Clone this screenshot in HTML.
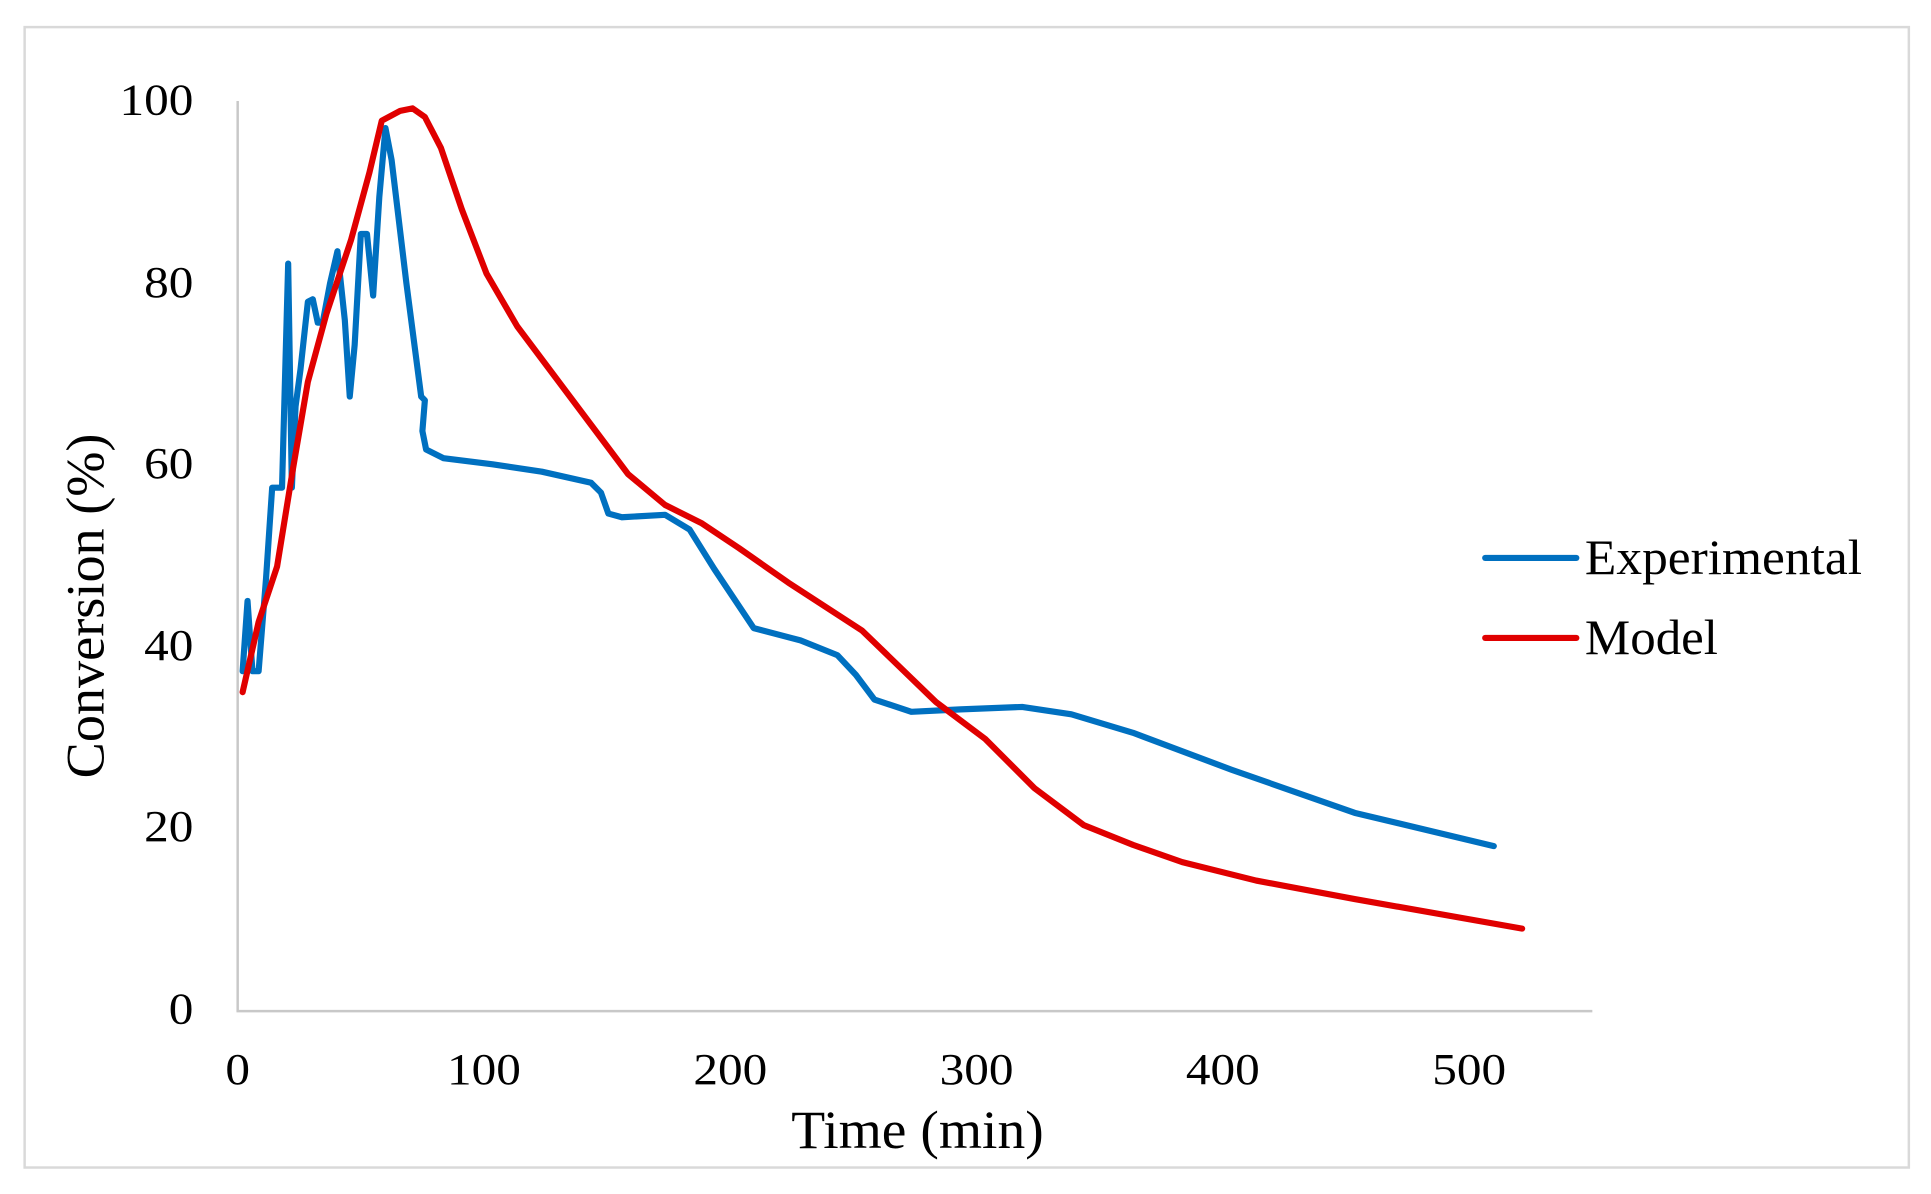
<!DOCTYPE html>
<html><head><meta charset="utf-8"><style>html,body{margin:0;padding:0;background:#fff}svg{display:block}</style></head>
<body>
<svg width="1931" height="1194" viewBox="0 0 1568 969.5" preserveAspectRatio="none" xmlns="http://www.w3.org/2000/svg" font-family="'Liberation Serif', serif" fill="#000">
<rect x="20" y="22" width="1530" height="926" fill="#fff" stroke="#d9d9d9" stroke-width="2"/>
<line x1="193" y1="82" x2="193" y2="821" stroke="#c8c8c8" stroke-width="2"/>
<line x1="192" y1="821" x2="1293" y2="821" stroke="#c8c8c8" stroke-width="2"/>
<g font-size="36" text-anchor="end" lengthAdjust="spacingAndGlyphs">
<text x="157" y="93" textLength="60" lengthAdjust="spacingAndGlyphs">100</text>
<text x="157" y="241" textLength="40" lengthAdjust="spacingAndGlyphs">80</text>
<text x="157" y="388" textLength="40" lengthAdjust="spacingAndGlyphs">60</text>
<text x="157" y="536" textLength="40" lengthAdjust="spacingAndGlyphs">40</text>
<text x="157" y="683" textLength="40" lengthAdjust="spacingAndGlyphs">20</text>
<text x="157" y="831" textLength="20" lengthAdjust="spacingAndGlyphs">0</text>
</g>
<g font-size="36" text-anchor="middle">
<text x="193" y="880" textLength="20" lengthAdjust="spacingAndGlyphs">0</text>
<text x="393" y="880" textLength="60" lengthAdjust="spacingAndGlyphs">100</text>
<text x="593" y="880" textLength="60" lengthAdjust="spacingAndGlyphs">200</text>
<text x="793" y="880" textLength="60" lengthAdjust="spacingAndGlyphs">300</text>
<text x="993" y="880" textLength="60" lengthAdjust="spacingAndGlyphs">400</text>
<text x="1193" y="880" textLength="60" lengthAdjust="spacingAndGlyphs">500</text>
</g>
<text x="745" y="932" font-size="44" text-anchor="middle" textLength="205" lengthAdjust="spacingAndGlyphs">Time (min)</text>
<text transform="translate(84,492) rotate(-90)" font-size="44" text-anchor="middle" textLength="280" lengthAdjust="spacingAndGlyphs">Conversion (%)</text>
<path fill="none" stroke="#0070c0" stroke-width="5" stroke-linejoin="round" stroke-linecap="round" d="M197,545 L201,488 L205,545 L210,545 L216,470 L221,396 L229,396 L234,214 L237,396 L240,330 L244,300 L250,245 L254,243 L258,262 L262,262 L268,230 L274,204 L280,260 L284,322 L288,280 L293,190 L298,190 L303,240 L308,160 L313,104 L318,130 L330,230 L342,322 L345,325 L343,350 L346,365 L360,372 L400,377 L440,383 L480,392 L488,400 L494,417 L505,420 L540,418 L560,430 L580,462 L612,510 L650,520 L680,532 L695,548 L710,568 L740,578 L780,576 L830,574 L870,580 L920,595 L1000,625 L1100,660 L1213,687"/>
<path fill="none" stroke="#e00000" stroke-width="5" stroke-linejoin="round" stroke-linecap="round" d="M197,562 L210,505 L225,460 L238,380 L250,310 L265,255 L285,195 L300,140 L310,98 L325,90 L335,88 L345,95 L358,120 L375,170 L395,222 L420,265 L450,305 L480,345 L510,385 L540,410 L570,425 L600,445 L640,473 L700,512 L760,570 L800,600 L840,640 L880,670 L920,686 L960,700 L1020,715 L1100,730 L1236,754"/>
<line x1="1206" y1="453" x2="1280" y2="453" stroke="#0070c0" stroke-width="5" stroke-linecap="round"/>
<line x1="1206" y1="518" x2="1280" y2="518" stroke="#e00000" stroke-width="5" stroke-linecap="round"/>
<text x="1287" y="466" font-size="40" textLength="225" lengthAdjust="spacingAndGlyphs">Experimental</text>
<text x="1287" y="531" font-size="40" textLength="108" lengthAdjust="spacingAndGlyphs">Model</text>
</svg>
</body></html>
